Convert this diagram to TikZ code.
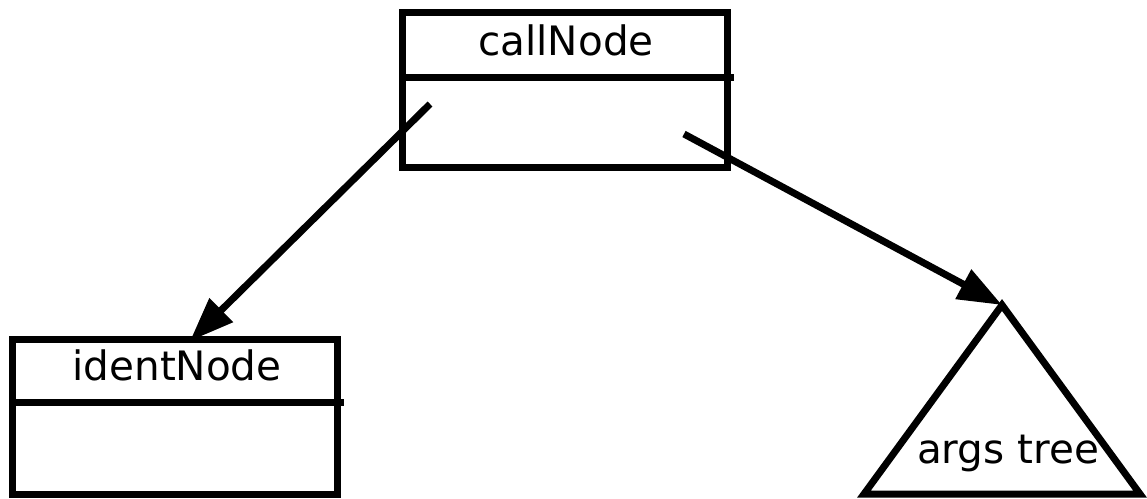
\documentclass[tikz,border=0pt]{standalone}
\usepackage{fontspec}
\setmainfont{DejaVu Sans}
\usetikzlibrary{arrows.meta}
\tikzset{
  boxframe/.style={draw, line width=7pt, minimum width=325pt, minimum height=155pt, inner sep=0pt, line join=miter},
  divider/.style={line width=7pt},
  label/.style={anchor=base, inner sep=0pt, font=\fontsize{40.5}{44}\selectfont},
  link/.style={line width=7pt, -{Triangle[length=44pt,width=32pt]}},
}
\begin{document}
\begin{tikzpicture}[x=1pt,y=-1pt]
\useasboundingbox (0,0) rectangle (1147,498);
% callNode
\node[boxframe] (call) at (565,90) {};
\draw[divider] (403,77) coordinate (calldivL) -- (734,77) coordinate (calldivR);
\node[label] (calltext) at (566,55) {callNode};
% identNode
\node[boxframe] (ident) at (174.5,416.5) {};
\draw[divider] (12,402) coordinate (identdivL) -- (344,402) coordinate (identdivR);
\node[label] (identtext) at (177,380) {identNode};
% args tree
\coordinate (argsTop) at (1002,305);
\coordinate (argsL) at (864,494);
\coordinate (argsR) at (1140,494);
\draw[line width=7pt, line join=miter] (argsTop) -- (argsR) -- (argsL) -- cycle;
\node[label] (argstext) at (1008,463) {args tree};
% connectors
\coordinate (s1) at (430,104);
\coordinate (t1) at (190,341);
\coordinate (s2) at (684,134);
\draw[link] (s1) -- (t1);
\draw[link] (s2) -- (argsTop);
\end{tikzpicture}
\end{document}
